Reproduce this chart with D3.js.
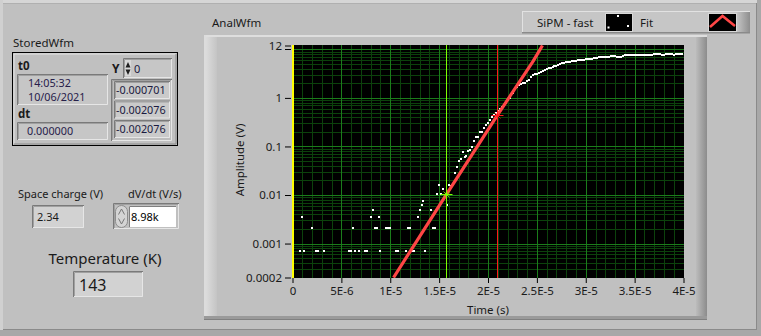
<!DOCTYPE html>
<html><head><meta charset="utf-8">
<script src="https://cdn.jsdelivr.net/npm/d3@7"></script>
<style>
html,body{margin:0;padding:0;background:#c0c0c0;overflow:hidden}
svg{display:block}
text{font-family:"Noto Sans",sans-serif}
</style>
</head><body><svg id="c" width="761" height="336"></svg>
<script>
// ---------------- data ----------------
const xTickValues = [0, 5e-6, 1e-5, 1.5e-5, 2e-5, 2.5e-5, 3e-5, 3.5e-5, 4e-5];
const xTickLabels = ["0", "5E-6", "1E-5", "1.5E-5", "2E-5", "2.5E-5", "3E-5", "3.5E-5", "4E-5"];
const yTickValues = [0.0002, 0.001, 0.01, 0.1, 1, 12];
const yTickLabels = ["0.0002", "0.001", "0.01", "0.1", "1", "12"];
const sampleDt = 2e-7;
// sparse noise samples (sample index, amplitude V)
const noiseIdx = [4,5,6,10,12,13,16,29,30,31,32,34,37,38,40,41,42,43,44,45,48,49,50,53,54,58,59,60,61,62,64,65,66,67,68,71,72,73];
const noiseAmp = [0.0007,0.0035,0.0007,0.0021,0.0007,0.0007,0.0007,0.0007,0.0007,0.0021,0.0007,0.0007,0.0007,0.0007,0.0035,0.0049,0.0021,0.0021,0.0035,0.0007,0.0021,0.0021,0.0021,0.0007,0.0007,0.0007,0.0021,0.0021,0.0007,0.0007,0.0035,0.0049,0.0063,0.0077,0.0007,0.0049,0.0021,0.0021];
// rising edge + plateau, consecutive samples from index riseStart
const riseStart = 74;
const riseAmp = [0.0104,0.0161,0.0104,0.0136,0.0092,0.0062,0.0161,0.0156,0.0171,0.029,
 0.0385,0.049,0.054,0.0775,0.062,0.065,0.082,0.086,0.099,0.132,
 0.16,0.153,0.194,0.194,0.242,0.28,0.31,0.344,0.41,0.45,
 0.5,0.545,0.6,0.65,0.71,0.79,0.92,1.01,1.13,1.29,
 1.49,1.67,1.82,1.93,2.02,2.07,2.23,2.39,2.7,2.9,
 3.1,3.18,3.26,3.42,3.58,3.73,3.85,4.04,4.17,4.34,
 4.44,4.55,4.77,4.89,5.13,5.25,5.38,5.38,5.46,5.64,
 5.73,5.73,5.92,5.92,6.06,6.12,6.35,6.41,6.41,6.2,
 6.6,6.6,6.73,6.83,6.83,6.83,6.83,6.99,7.06,7.16,
 7.26,7.26,6.93,6.93,7.06,7.38,7.49,7.62,7.62,7.62,
 7.62,7.62,7.62,7.62,7.62,7.62,7.62,7.62,7.62,7.62,
 7.75,7.87,7.87,7.87,7.87,7.62,7.62,7.87,7.87,7.87,
 7.87,7.75,7.97,7.97,7.97,7.97];
// exponential fit (time s, amplitude V)
const fitTime = [1.034e-5, 1.575e-5, 2.095e-5, 2.462e-5, 2.557e-5];
const fitAmp  = [0.0002, 0.0103, 0.436, 5.72, 12];
// cursors
const cursorTime = [0, 1.575e-5, 2.095e-5];
const cursorAmp  = [null, 0.0103, 0.436];
const cursorColor = ["#ffff00", "#7dff00", "#ff1a1a"];
// panel values
const storedT0 = ["14:05:32", "10/06/2021"];
const storedDt = "0.000000";
const storedY = ["-0.000701", "-0.002076", "-0.002076"];
const spaceCharge = "2.34", dvdt = "8.98k", temperature = "143";

// ---------------- drawing ----------------
const svg = d3.select("#c");
const BG = "#c0c0c0";
svg.append("rect").attr("width",761).attr("height",336).attr("fill",BG);
// outer panel frame
svg.append("rect").attr("x",0).attr("y",0).attr("width",761).attr("height",3).attr("fill","#d6d6d6");
svg.append("rect").attr("x",0).attr("y",0).attr("width",3).attr("height",336).attr("fill","#d0d0d0");
svg.append("rect").attr("x",3).attr("y",3).attr("width",755).attr("height",1).attr("fill","#b0b0b0");
svg.append("rect").attr("x",0).attr("y",330).attr("width",761).attr("height",6).attr("fill","#a8a8a8");
svg.append("rect").attr("x",3).attr("y",329).attr("width",755).attr("height",1).attr("fill","#8a8a8a");
svg.append("rect").attr("x",757).attr("y",0).attr("width",4).attr("height",336).attr("fill","#a8a8a8");
svg.append("rect").attr("x",756).attr("y",3).attr("width",1).attr("height",327).attr("fill","#8a8a8a");

function recessed(x,y,w,h,fill){
  svg.append("rect").attr("x",x).attr("y",y).attr("width",w).attr("height",h).attr("fill",fill||"#d0d0d0");
  svg.append("path").attr("d",`M${x+0.5},${y+h}V${y+0.5}H${x+w}`).attr("stroke","#7a7a7a").attr("fill","none");
  svg.append("path").attr("d",`M${x+1.5},${y+h-1}V${y+1.5}H${x+w-1}`).attr("stroke","#a0a0a0").attr("fill","none");
  svg.append("path").attr("d",`M${x+w-0.5},${y+1}V${y+h-0.5}H${x+1}`).attr("stroke","#e6e6e6").attr("fill","none");
}
function txt(x,y,s,size,opts){
  opts=opts||{};
  return svg.append("text").attr("x",x).attr("y",y).text(s)
    .attr("font-size",size).attr("fill",opts.fill||"#1a1a1a")
    .attr("font-weight",opts.bold?"bold":"normal")
    .attr("text-anchor",opts.anchor||"start");
}

// ---- StoredWfm cluster ----
txt(13,47,"StoredWfm",11.5);
svg.append("rect").attr("x",12.5).attr("y",52.5).attr("width",165).attr("height",93).attr("fill",BG).attr("stroke","#000");
svg.append("path").attr("d","M14,144V54H176").attr("stroke","#e4e4e4").attr("fill","none");
svg.append("path").attr("d","M176,54V144H14").attr("stroke","#8a8a8a").attr("fill","none");
txt(18,70,"t0",11.5,{bold:true});
recessed(17,74,91,31,"#c6c6c6");
txt(28,87,storedT0[0],10.8,{fill:"#26204a"});
txt(28,101,storedT0[1],10.8,{fill:"#26204a"});
txt(18,118,"dt",11.5,{bold:true});
recessed(17,122,91,18,"#c6c6c6");
txt(27,135,storedDt,10.8,{fill:"#26204a"});
txt(112,73,"Y",12,{bold:true});
// index control
recessed(123,58,49,20,"#c6c6c6");
svg.append("rect").attr("x",125).attr("y",60).attr("width",6).attr("height",16).attr("fill","#d8d8d8");
svg.append("path").attr("d","M125.5,67.5L128,62L130.5,67.5Z").attr("fill","#202020");
svg.append("path").attr("d","M125.5,69.5L128,75L130.5,69.5Z").attr("fill","#202020");
txt(134,73,"0",11,{fill:"#1a1a40"});
// array cells
recessed(111,79,61,62,"#bdbdbd");
storedY.forEach((v,i)=>{
  recessed(114,81+i*19.5,56,18,"#cacaca");
  txt(116,94+i*19.5,v,10.8,{fill:"#1a1a40"});
});

// ---- Space charge / dV/dt ----
txt(18,198,"Space charge (V)",11);
recessed(32,205,52,23,"#d2d2d2");
txt(37,221,spaceCharge,11);
txt(128,198,"dV/dt (V/s)",11);
recessed(113,203,66,26,BG);
svg.append("rect").attr("x",115.5).attr("y",205.5).attr("width",12).attr("height",22).attr("rx",6).attr("fill","#d4d4d4").attr("stroke","#8c8c8c");
svg.append("path").attr("d","M118.5,214.5L121.5,209L124.5,214.5").attr("fill","none").attr("stroke","#777");
svg.append("path").attr("d","M118.5,218.5L121.5,224L124.5,218.5").attr("fill","none").attr("stroke","#777");
svg.append("rect").attr("x",129).attr("y",206).attr("width",47).attr("height",21).attr("fill","#ffffff");
svg.append("path").attr("d","M129.5,227V206.5H176").attr("stroke","#808080").attr("fill","none");
txt(131,221,dvdt,11,{fill:"#000"});

// ---- Temperature ----
txt(105,264,"Temperature (K)",15,{anchor:"middle"});
recessed(73,271,70,26,"#d2d2d2");
txt(79,291,temperature,16);

// ---- graph frame ----
txt(212,27,"AnalWfm",11.5);
const gdef = svg.append("defs");
const lg = gdef.append("linearGradient").attr("id","lgl").attr("x1",0).attr("x2",1);
lg.append("stop").attr("offset",0).attr("stop-color","#dcdcdc");
lg.append("stop").attr("offset",1).attr("stop-color","#c4c4c4");
const rg = gdef.append("linearGradient").attr("id","lgr").attr("x1",0).attr("x2",1);
rg.append("stop").attr("offset",0).attr("stop-color","#bcbcbc");
rg.append("stop").attr("offset",1).attr("stop-color","#8c8c8c");
svg.append("rect").attr("x",204).attr("y",35).attr("width",503).attr("height",285).attr("fill",BG);
svg.append("rect").attr("x",204).attr("y",35).attr("width",503).attr("height",2).attr("fill","#dedede");
svg.append("rect").attr("x",204).attr("y",35).attr("width",2).attr("height",285).attr("fill","#dcdcdc");
svg.append("rect").attr("x",206).attr("y",37).attr("width",11).attr("height",280).attr("fill","url(#lgl)");
svg.append("rect").attr("x",696).attr("y",37).attr("width",11).attr("height",283).attr("fill","url(#lgr)");
svg.append("rect").attr("x",204).attr("y",316).attr("width",503).attr("height",4).attr("fill","#9a9a9a");
svg.append("rect").attr("x",204).attr("y",319).attr("width",503).attr("height",1).attr("fill","#808080");

// ---- legend ----
const lg2 = gdef.append("linearGradient").attr("id","lgleg").attr("x1",0).attr("x2",1);
lg2.append("stop").attr("offset",0).attr("stop-color","#c4c4c4");
lg2.append("stop").attr("offset",1).attr("stop-color","#8e8e8e");
svg.append("rect").attr("x",522).attr("y",11).attr("width",228).attr("height",22).attr("fill","#c6c6c6");
svg.append("rect").attr("x",522).attr("y",11).attr("width",228).attr("height",1).attr("fill","#e2e2e2");
svg.append("rect").attr("x",522).attr("y",11).attr("width",1).attr("height",22).attr("fill","#e2e2e2");
svg.append("rect").attr("x",737).attr("y",12).attr("width",13).attr("height",21).attr("fill","url(#lgleg)");
svg.append("rect").attr("x",522).attr("y",32).attr("width",228).attr("height",1.5).attr("fill","#8a8a8a");
txt(537,27,"SiPM - fast",11.5);
svg.append("rect").attr("x",605).attr("y",13).attr("width",28).attr("height",19).attr("fill","#d8d8d8");
svg.append("rect").attr("x",606).attr("y",14).attr("width",26).attr("height",17).attr("fill","#000");
[[617,15],[627,25],[607.5,26.5]].forEach(p=>svg.append("rect").attr("x",p[0]).attr("y",p[1]).attr("width",2).attr("height",2).attr("fill","#fff"));
txt(640,27,"Fit",11.5);
svg.append("rect").attr("x",708).attr("y",13).attr("width",29).attr("height",19).attr("fill","#d8d8d8");
svg.append("rect").attr("x",709).attr("y",14).attr("width",27).attr("height",17).attr("fill","#000");
svg.append("path").attr("d","M710,27L722.5,16L735,26").attr("fill","none").attr("stroke","#ff4646").attr("stroke-width",2.5);

// ---- plot ----
const x = d3.scaleLinear().domain([0,4e-5]).range([292.5,683.5]);
const y = d3.scaleLog().domain([0.0002,12]).range([277.5,45.5]);
const PL=292, PR=684, PT=45, PB=278;
svg.append("rect").attr("x",PL).attr("y",PT).attr("width",PR-PL).attr("height",PB-PT).attr("fill","#000");
gdef.append("clipPath").attr("id","clip").append("rect").attr("x",PL).attr("y",PT).attr("width",PR-PL).attr("height",PB-PT);
const plot = svg.append("g").attr("clip-path","url(#clip)");

const xMinor = d3.range(0,41).map(i=>i*1e-6);
const yMinor = [];
for (let e=-4;e<=1;e++) for (let k=1;k<=9;k++){const v=k*Math.pow(10,e); if(v>=0.0002&&v<=12) yMinor.push(v);}
const yMajor = [0.001,0.01,0.1,1,10];
const MINOR="#0c420c", MAJOR="#1b7d1b";
plot.selectAll(".xm").data(xMinor).enter().append("line")
  .attr("x1",d=>Math.round(x(d))+0.5).attr("x2",d=>Math.round(x(d))+0.5).attr("y1",PT).attr("y2",PB).attr("stroke",MINOR);
plot.selectAll(".ym").data(yMinor).enter().append("line")
  .attr("y1",d=>Math.round(y(d))+0.5).attr("y2",d=>Math.round(y(d))+0.5).attr("x1",PL).attr("x2",PR).attr("stroke",MINOR);
plot.selectAll(".xM").data(xTickValues).enter().append("line")
  .attr("x1",d=>Math.round(x(d))+0.5).attr("x2",d=>Math.round(x(d))+0.5).attr("y1",PT).attr("y2",PB).attr("stroke",MAJOR);
plot.selectAll(".yM").data(yMajor).enter().append("line")
  .attr("y1",d=>Math.round(y(d))+0.5).attr("y2",d=>Math.round(y(d))+0.5).attr("x1",PL).attr("x2",PR).attr("stroke",MAJOR);

// data points
const pts = noiseIdx.map((k,i)=>({t:k*sampleDt, v:noiseAmp[i]}))
  .concat(riseAmp.map((v,i)=>({t:(riseStart+i)*sampleDt, v})));
plot.selectAll(".pt").data(pts).enter().append("rect")
  .attr("x",d=>Math.round(x(d.t))-1).attr("y",d=>Math.round(y(d.v))-1)
  .attr("width",2).attr("height",2).attr("fill","#fff");

// fit
const fitPts = fitTime.map((t,i)=>[t,fitAmp[i]]);
plot.append("path").datum(fitPts)
  .attr("d", d3.line().x(d=>x(d[0])).y(d=>y(d[1])))
  .attr("fill","none").attr("stroke","#ff4545").attr("stroke-width",3.2);

// cursors
cursorTime.forEach((t,i)=>{
  const cx = Math.round(x(t)) + (i===0?0:0.5);
  plot.append("line").attr("x1",cx).attr("x2",cx).attr("y1",PT).attr("y2",PB)
    .attr("stroke",cursorColor[i]).attr("stroke-width",i===0?2:1);
  if (cursorAmp[i]!=null){
    const cy = Math.round(y(cursorAmp[i]))+0.5;
    plot.append("line").attr("x1",cx-6).attr("x2",cx+6).attr("y1",cy).attr("y2",cy).attr("stroke",cursorColor[i]);
    plot.append("path").attr("d",`M${cx-3},${cy-3}L${cx+3},${cy+3}M${cx-3},${cy+3}L${cx+3},${cy-3}`).attr("stroke",cursorColor[i]).attr("stroke-width",0.8);
  }
});

// axes
const xAxis = d3.axisBottom(x).tickValues(xTickValues).tickFormat((d,i)=>xTickLabels[i]).tickSize(5).tickPadding(4);
const gx = svg.append("g").attr("transform",`translate(0,${PB})`).call(xAxis);
const yAxis = d3.axisLeft(y).tickValues(yTickValues).tickFormat((d,i)=>yTickLabels[i]).tickSize(6).tickPadding(3);
const gy = svg.append("g").attr("transform",`translate(${PL-1},0)`).call(yAxis);
[gx,gy].forEach(g=>{
  g.select(".domain").remove();
  g.selectAll("line").attr("stroke","#000");
  g.selectAll("text").attr("font-size",11.5).attr("fill","#1a1a1a").attr("font-family","Noto Sans");
});
// extra tick at 10 (next to 12)
gy.append("line").attr("x1",-6).attr("x2",0).attr("y1",Math.round(y(10))+0.5).attr("y2",Math.round(y(10))+0.5).attr("stroke","#000");
txt((PL+PR)/2,314,"Time (s)",11.5,{anchor:"middle"});
svg.append("text").attr("transform","translate(244,160) rotate(-90)").attr("text-anchor","middle")
  .attr("font-size",11.5).attr("fill","#1a1a1a").text("Amplitude (V)");
</script></body></html>
